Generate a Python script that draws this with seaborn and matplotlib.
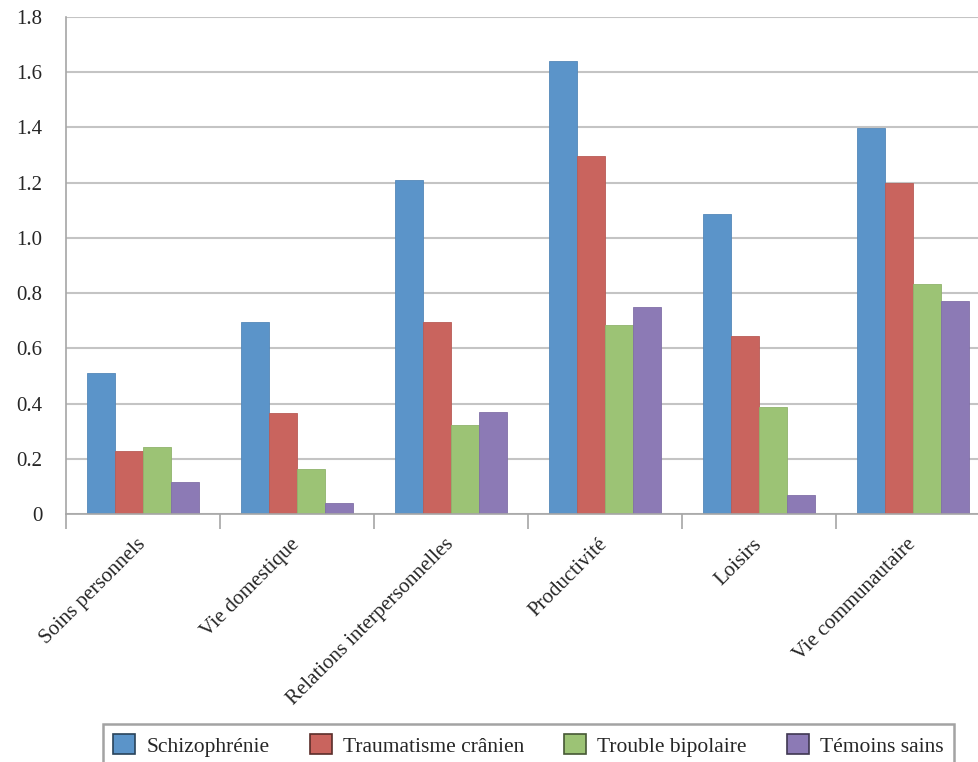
import numpy as np
import pandas as pd
import matplotlib
matplotlib.use("Agg")
import matplotlib.pyplot as plt
import seaborn as sns

# ---------------------------------------------------------------------------
# Data
# ---------------------------------------------------------------------------
domaines = ["Soins personnels", "Vie domestique", "Relations interpersonnelles",
            "Productivité", "Loisirs", "Vie communautaire"]
groupes = ["Schizophrénie", "Traumatisme crânien", "Trouble bipolaire", "Témoins sains"]

schizophrenie = [0.511, 0.694, 1.209, 1.641, 1.087, 1.398]
traumatisme = [0.227, 0.364, 0.696, 1.296, 0.643, 1.199]
bipolaire = [0.241, 0.163, 0.324, 0.683, 0.386, 0.833]
temoins = [0.114, 0.038, 0.370, 0.751, 0.067, 0.771]

couleurs = ["#5B94C9", "#C9645E", "#9CC375", "#8C7AB5"]
yticks = [0, 0.2, 0.4, 0.6, 0.8, 1.0, 1.2, 1.4, 1.6, 1.8]

# long form table for seaborn
series = [schizophrenie, traumatisme, bipolaire, temoins]
rows = []
for g, vals in zip(groupes, series):
    for d, v in zip(domaines, vals):
        rows.append({"domaine": d, "groupe": g, "score": v})
df = pd.DataFrame(rows)

# ---------------------------------------------------------------------------
# Plot
# ---------------------------------------------------------------------------
sns.set_theme(style="white")
plt.rcParams["font.family"] = ["Liberation Serif", "DejaVu Serif"]

grid_col = "#c4c4c4"
axis_col = "#a6a6a6"
text_col = "#262626"

fig = plt.figure(figsize=(9.79, 7.62), dpi=100)
ax = fig.add_axes([0.0673, 0.3255, 0.9438, 0.6522])

sns.barplot(data=df, x="domaine", y="score", hue="groupe", order=domaines,
            hue_order=groupes, palette=couleurs, saturation=1, width=0.73,
            errorbar=None, ax=ax)

# thin, slightly darker outline on each bar
for p in ax.patches:
    fc = np.array(p.get_facecolor()[:3])
    p.set_edgecolor(tuple(fc * 0.92))
    p.set_linewidth(0.6)

ax.set_xlim(-0.5, 5.5)
ax.set_ylim(0, 1.8)
ax.set_yticks(yticks)
ax.set_yticklabels(["0" if t == 0 else f"{t:.1f}" for t in yticks],
                   fontsize=15, color=text_col)
ax.yaxis.grid(True, color=grid_col, linewidth=1.5)
ax.set_axisbelow(True)
ax.tick_params(axis="y", length=12, width=1.5, color=grid_col, pad=5)

ax.set_xticks(range(len(domaines)))
ax.set_xticklabels(domaines, rotation=45, ha="right", va="center",
                   rotation_mode="anchor", fontsize=15, color=text_col)
ax.set_xticks(np.arange(-0.5, len(domaines), 1), minor=True)
ax.tick_params(axis="x", which="major", length=0, pad=20)
ax.tick_params(axis="x", which="minor", length=11, width=1.2, color=axis_col,
               bottom=True)

ax.set_xlabel("")
ax.set_ylabel("")
for side in ["top", "right"]:
    ax.spines[side].set_visible(False)
ax.spines["left"].set_color(axis_col)
ax.spines["left"].set_linewidth(1.2)
ax.spines["bottom"].set_color(axis_col)
ax.spines["bottom"].set_linewidth(1.2)

handles, labels = ax.get_legend_handles_labels()
ax.get_legend().remove()
leg = fig.legend(handles, labels, loc="upper left", bbox_to_anchor=(0.1052, 0.0499),
                 borderaxespad=0, ncol=4, frameon=True, fancybox=False, fontsize=15.5,
                 handlelength=1.03, handleheight=1.03, handletextpad=0.52,
                 columnspacing=1.85, borderpad=0.48, edgecolor="#8c8c8c")
leg.get_frame().set_linewidth(1.8)
for h, c in zip(leg.legend_handles, couleurs):
    h.set_edgecolor(tuple(np.array(matplotlib.colors.to_rgb(c)) * 0.45))
    h.set_linewidth(1.2)
for t in leg.get_texts():
    t.set_color(text_col)

fig.savefig("out.png", dpi=100)
